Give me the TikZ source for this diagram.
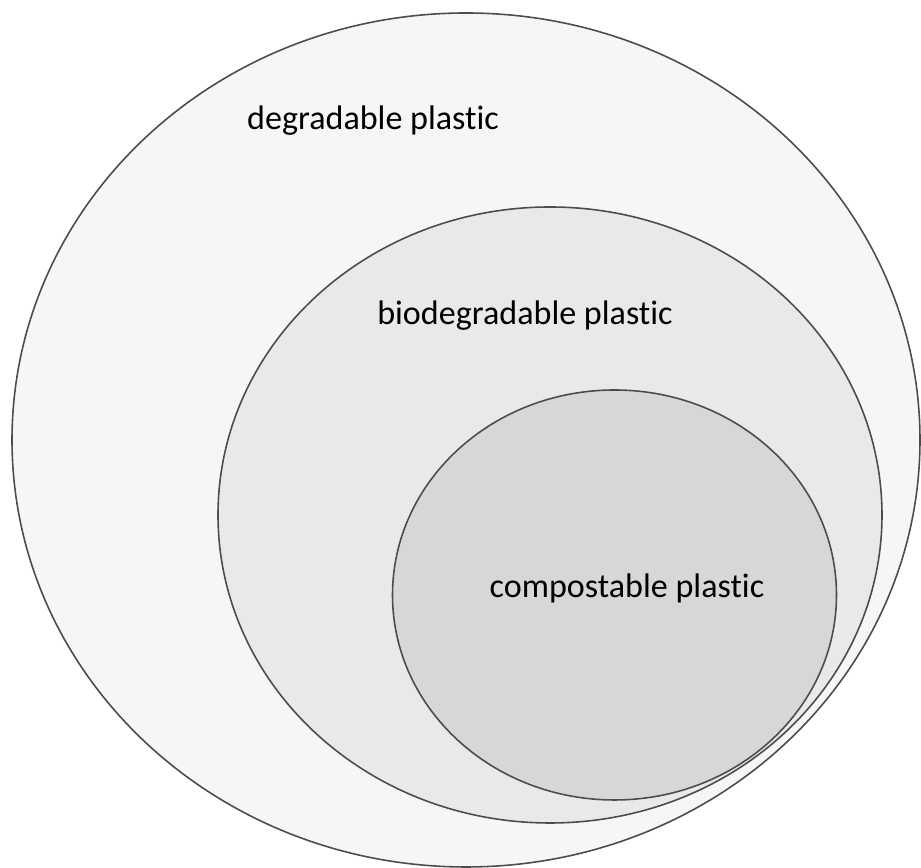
\documentclass[tikz,border=0pt]{standalone}
\usepackage{fontspec}
\setmainfont{Carlito}[Ligatures=NoCommon]
\tikzset{
  plasticset/.style={draw=black!70, line width=0.9pt},
  setlabel/.style={anchor=base, font=\fontsize{19.4}{23}\selectfont, text=black},
}
\begin{document}
\begin{tikzpicture}[x=0.02cm,y=0.02cm]
\useasboundingbox (0,0) rectangle (921,868);
% nested sets, outermost first
\draw[plasticset,fill=gray!7]  (466,428)   ellipse [x radius=454, y radius=427];
\draw[plasticset,fill=gray!17] (550,353)   ellipse [x radius=332, y radius=308];
\draw[plasticset,fill=gray!31] (614.5,273) ellipse [x radius=222, y radius=205];
% labels
\node[setlabel] (degradable)    at (373,738) {degradable plastic};
\node[setlabel] (biodegradable) at (525,543) {biodegradable plastic};
\node[setlabel] (compostable)   at (627,270) {compostable plastic};
\end{tikzpicture}
\end{document}
